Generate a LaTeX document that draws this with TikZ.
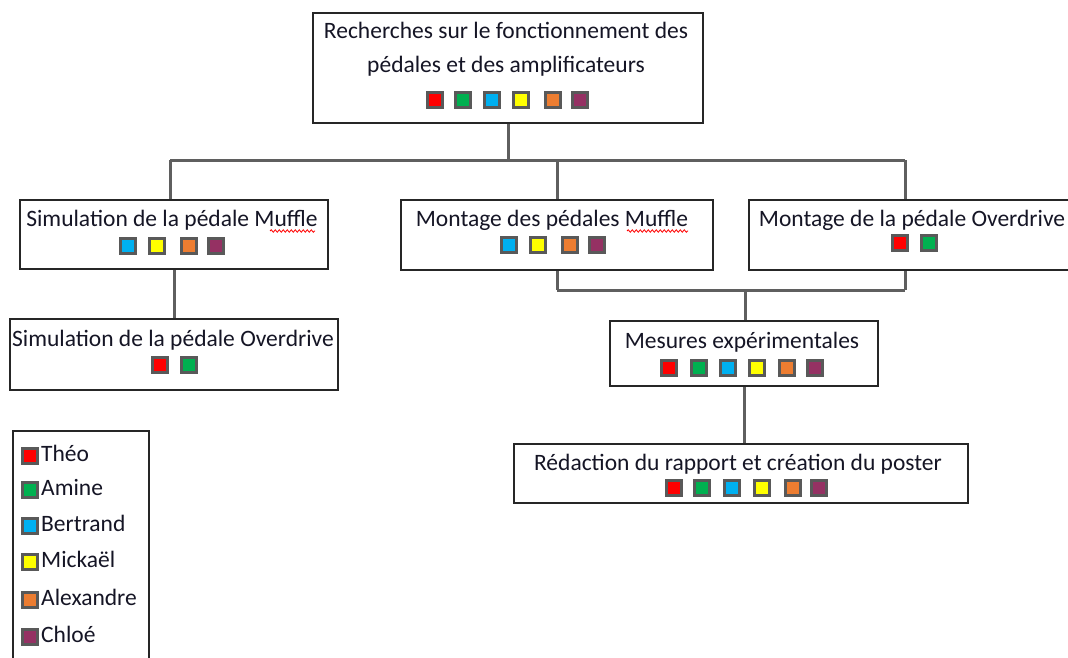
\documentclass[tikz,border=0pt]{standalone}
\usepackage{fontspec}
\setmainfont{Carlito}
\usetikzlibrary{decorations.pathmorphing}
\definecolor{pred}{HTML}{FF0000}
\definecolor{pgreen}{HTML}{00B050}
\definecolor{pblue}{HTML}{00B0F0}
\definecolor{pyellow}{HTML}{FFFF00}
\definecolor{porange}{HTML}{ED7D31}
\definecolor{ppurple}{HTML}{953163}
\definecolor{boxc}{HTML}{262626}
\definecolor{sqc}{HTML}{595959}
\definecolor{linec}{HTML}{5F5F5F}
\definecolor{txt}{HTML}{151525}
\begin{document}
\begin{tikzpicture}[x=1pt,y=-1pt,
  box/.style={draw=boxc, line width=2pt, inner sep=0pt, anchor=north west},
  lbl/.style={inner sep=0pt, anchor=base, text=txt, font=\fontsize{23.5}{28}\selectfont},
  leg/.style={inner sep=0pt, anchor=base west, text=txt, font=\fontsize{23.5}{28}\selectfont},
  sq/.style={draw=sqc, line width=2.6pt, minimum size=15pt, inner sep=0pt},
  conn/.style={draw=linec, line width=3pt},
  spell/.style={draw=red, line width=0.8pt, decorate, decoration={snake, amplitude=1.2pt, segment length=4pt}}]
\useasboundingbox (0,0) rectangle (1068,658);
\clip (0,0) rectangle (1068,658);
\fill[white] (0,0) rectangle (1068,658);

% boxes
\node[box, minimum width=390pt, minimum height=110pt] (top) at (312,12) {};
\node[box, minimum width=308pt, minimum height=69pt] (simM) at (19,199) {};
\node[box, minimum width=312pt, minimum height=70pt] (monM) at (400,199) {};
\node[box, minimum width=320pt, minimum height=70pt] (monO) at (748,199) {};
\node[box, minimum width=328pt, minimum height=71pt] (simO) at (9,318) {};
\node[box, minimum width=268pt, minimum height=65pt] (mes) at (609,320) {};
\node[box, minimum width=454pt, minimum height=59pt] (red) at (513,443) {};
\node[box, minimum width=136pt, minimum height=260pt] (legend) at (12,430) {};

% texts
\node[lbl] (topT1) at (506,39) {Recherches sur le fonctionnement des};
\node[lbl] (topT2) at (506,73) {pédales et des amplificateurs};
\node[lbl] (simMT) at (172,226) {Simulation de la pédale Muffle};
\node[lbl] (monMT) at (552,226) {Montage des pédales Muffle};
\node[lbl] (monOT) at (912,226) {Montage de la pédale Overdrive};
\node[lbl] (simOT) at (173,346) {Simulation de la pédale Overdrive};
\node[lbl] (mesT) at (742,348) {Mesures expérimentales};
\node[lbl] (redT) at (738,470) {Rédaction du rapport et création du poster};

% spell-check underlines
\draw[spell] (270,231) -- (315,231);
\draw[spell] (627,231) -- (688,231);

% squares
\foreach \x/\c [count=\i] in {435/pred,463/pgreen,492/pblue,521/pyellow,553/porange,580/ppurple}
  \node[sq, fill=\c] (topS\i) at (\x,100) {};
\foreach \x/\c [count=\i] in {128/pblue,157/pyellow,189/porange,216/ppurple}
  \node[sq, fill=\c] (simMS\i) at (\x,246) {};
\foreach \x/\c [count=\i] in {509/pblue,538/pyellow,570/porange,597/ppurple}
  \node[sq, fill=\c] (monMS\i) at (\x,245) {};
\foreach \x/\c [count=\i] in {900/pred,929/pgreen}
  \node[sq, fill=\c] (monOS\i) at (\x,243) {};
\foreach \x/\c [count=\i] in {160/pred,189/pgreen}
  \node[sq, fill=\c] (simOS\i) at (\x,365) {};
\foreach \x/\c [count=\i] in {669/pred,699/pgreen,728/pblue,757/pyellow,787/porange,815/ppurple}
  \node[sq, fill=\c] (mesS\i) at (\x,368) {};
\foreach \x/\c [count=\i] in {674/pred,702/pgreen,732/pblue,762/pyellow,793/porange,819/ppurple}
  \node[sq, fill=\c] (redS\i) at (\x,488) {};

% legend
\foreach \y/\c/\n [count=\i] in {456/pred/Théo,490/pgreen/Amine,526/pblue/Bertrand,562/pyellow/Mickaël,600/porange/Alexandre,637/ppurple/Chloé}{
  \node[sq, fill=\c] (legS\i) at (30,\y) {};
  \node[leg] (legT\i) at (41,\y+5) {\n};
}

% connectors
\coordinate (b1) at (170,160);
\coordinate (b2) at (905,160);
\coordinate (c1) at (555,290);
\coordinate (c2) at (905,290);
\coordinate (c3) at (745,290);
\draw[conn] (top.south) -- (top.south |- b1);
\draw[conn] (b1) -- (b2);
\draw[conn] (b1) -- (b1 |- simM.north);
\draw[conn] (monM.north |- b1) -- (monM.north);
\draw[conn] (b2) -- (b2 |- monO.north);
\draw[conn] (simM.south) -- (simM.south |- simO.north);
\draw[conn] (monM.south) -- (monM.south |- c1);
\draw[conn] (c2 |- monO.south) -- (c2);
\draw[conn] (monM.south |- c1) -- (c2);
\draw[conn] (c3) -- (c3 |- mes.north);
\draw[conn] (mes.south) -- (mes.south |- red.north);
\end{tikzpicture}
\end{document}
